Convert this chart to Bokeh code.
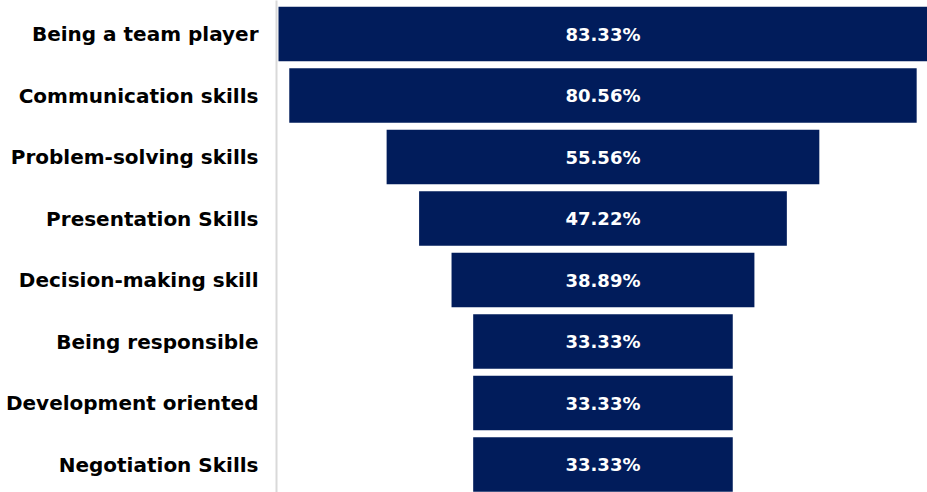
from bokeh.plotting import figure
from bokeh.models import ColumnDataSource, Range1d, FixedTicker, LabelSet
from bokeh.core.properties import value
from bokeh.embed import file_html
from bokeh.resources import INLINE

skills = ["Being a team player", "Communication skills", "Problem-solving skills",
          "Presentation Skills", "Decision-making skill", "Being responsible",
          "Development oriented", "Negotiation Skills"]
shares = [83.33, 80.56, 55.56, 47.22, 38.89, 33.33, 33.33, 33.33]

rows = list(range(len(skills)))
src = ColumnDataSource(dict(
    y=rows,
    left=[-v / 2 for v in shares],
    right=[v / 2 for v in shares],
    x=[0] * len(shares),
    lab=[f"{v:.2f}%" for v in shares],
))

p = figure(width=927, height=492, output_backend="svg", toolbar_location=None,
           x_range=Range1d(-41.92, 41.67), y_range=Range1d(7.455, -0.545),
           min_border_left=276, min_border_right=0, min_border_top=0, min_border_bottom=0)

p.hbar(y="y", left="left", right="right", height=0.886, source=src,
       fill_color="#011c5b", line_color=None)

labels = LabelSet(x="x", y="y", text="lab", source=src, text_align="center",
                  text_baseline="middle", text_color="white",
                  text_font=value("DejaVu Sans"),
                  text_font_style="bold", text_font_size="18px")
p.add_layout(labels)

p.xaxis.visible = False
p.xgrid.visible = False
p.ygrid.visible = False
p.outline_line_color = None

ax = p.yaxis[0]
ax.ticker = FixedTicker(ticks=rows)
ax.major_label_overrides = {i: s for i, s in enumerate(skills)}
ax.major_tick_line_color = None
ax.minor_tick_line_color = None
ax.axis_line_color = "#d9d9d9"
ax.axis_line_width = 2
ax.major_label_standoff = 12
ax.major_label_text_font = "DejaVu Sans"
ax.major_label_text_font_style = "bold"
ax.major_label_text_font_size = "20px"
ax.major_label_text_color = "black"

open("out.html", "w").write(file_html(p, INLINE))
